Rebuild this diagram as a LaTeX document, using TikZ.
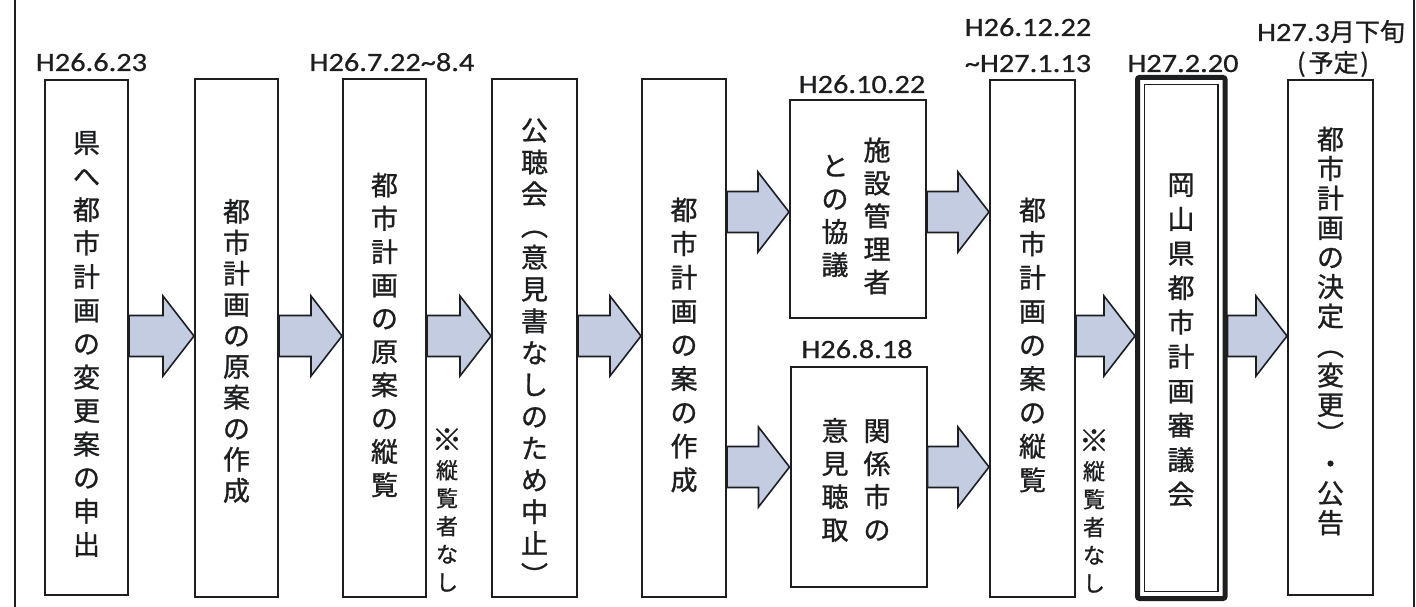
\documentclass[tikz,border=0pt]{standalone}
\usepackage{fontspec}
\newfontfamily\jp[FakeBold=1]{Noto Sans CJK JP}
\newfontfamily\dt[FakeStretch=1.15,FakeBold=0.6]{Carlito}
\usetikzlibrary{calc}
\definecolor{ink}{RGB}{28,30,32}
\definecolor{arrfill}{RGB}{196,204,226}
\tikzset{
  stepbox/.style={draw=ink, line width=2pt, fill=white, inner sep=0pt},
  vt/.style={text=ink, align=center, inner sep=0pt, font=\jp\fontsize{27}{#1}\selectfont},
  vt/.default=33,
  note/.style={text=ink, align=center, inner sep=0pt, font=\jp\fontsize{22}{28}\selectfont},
  date/.style={text=ink, inner sep=0pt, anchor=base, font=\dt\fontsize{26.4}{30}\selectfont},
  blockarr/.style={draw=ink, line width=1.6pt, fill=arrfill, line join=miter},
  frameline/.style={draw=ink, line width=2pt},
}
\newcommand\blockarrow[3]{%
  \coordinate (ba-s) at (#1.east |- 0,#3);
  \coordinate (ba-t) at (#2.west |- 0,#3);
  \draw[blockarr] ($(ba-s)+(0,-20.5)$) -- ($(ba-t)+(-31,-20.5)$) -- ($(ba-t)+(-31,-40)$)
    -- (ba-t) -- ($(ba-t)+(-31,40)$) -- ($(ba-t)+(-31,20.5)$) -- ($(ba-s)+(0,20.5)$) -- cycle;
}
\newcommand\bigkome{{\fontsize{30}{28}\selectfont ※}}
\begin{document}
\begin{tikzpicture}[x=1pt,y=-1pt]
\useasboundingbox (0,0) rectangle (1416,607);
\fill[white] (0,0) rectangle (1416,607);
% frame
\coordinate (fl1) at (15,0); \coordinate (fl2) at (15,607);
\coordinate (fr1) at (1414,0); \coordinate (fr2) at (1414,607);
\draw[frameline] (fl1) -- (fl2);
\draw[frameline] (fr1) -- (fr2);

% boxes
\node[stepbox, minimum width=83pt, minimum height=515pt] (b1) at (86.5,337.5) {};
\node[stepbox, minimum width=83pt, minimum height=518pt] (b2) at (236.5,338) {};
\node[stepbox, minimum width=83pt, minimum height=518pt] (b3) at (384.5,338) {};
\node[stepbox, minimum width=85pt, minimum height=518pt] (b4) at (534.5,338) {};
\node[stepbox, minimum width=84pt, minimum height=518pt] (b5) at (684,338) {};
\node[stepbox, minimum width=136pt, minimum height=218pt] (b6u) at (858,209) {};
\node[stepbox, minimum width=136pt, minimum height=220pt] (b6l) at (858.5,477) {};
\node[stepbox, minimum width=85pt, minimum height=517pt] (b7) at (1032.5,338.5) {};
\node[stepbox, line width=5pt, rounded corners=2pt, minimum width=87.5pt, minimum height=521pt] (b8) at (1181.25,338) {};
\draw[draw=ink, line width=1.5pt] ($(b8.north west)+(9.5,9.5)$) rectangle ($(b8.south east)+(-9.5,-9.5)$);
\node[stepbox, minimum width=85pt, minimum height=515pt] (b9) at (1330.5,337.5) {};

% arrows
\blockarrow{b1}{b2}{336}
\blockarrow{b2}{b3}{336}
\blockarrow{b3}{b4}{336}
\blockarrow{b4}{b5}{336}
\blockarrow{b5}{b6u}{212}
\blockarrow{b5}{b6l}{467}
\blockarrow{b6u}{b7}{212}
\blockarrow{b6l}{b7}{467}
\blockarrow{b7}{b8}{336}
\blockarrow{b8}{b9}{336}

% texts in boxes
\node[vt=33.5] (t1) at (86.5,344) {県\\へ\\都\\市\\計\\画\\の\\変\\更\\案\\の\\申\\出};
\node[vt=31] (t2) at (236.5,351) {都\\市\\計\\画\\の\\原\\案\\の\\作\\成};
\node[vt=33.3] (t3) at (384.5,335) {都\\市\\計\\画\\の\\原\\案\\の\\縦\\覧};
\node[vt=31.8] (t4) at (534.5,352) {公\\聴\\会\\︵\\意\\見\\書\\な\\し\\の\\た\\め\\中\\止\\︶};
\node[vt=33.75] (t5) at (684,345) {都\\市\\計\\画\\の\\案\\の\\作\\成};
\node[vt=33] (t6a) at (877,216) {施\\設\\管\\理\\者};
\node[vt=33] (t6b) at (835,216) {と\\の\\協\\議};
\node[vt=33] (t6c) at (877,480) {関\\係\\市\\の};
\node[vt=33] (t6d) at (835,480) {意\\見\\聴\\取};
\node[vt=33.75] (t7) at (1032.5,345) {都\\市\\計\\画\\の\\案\\の\\縦\\覧};
\node[vt=34.4] (t8) at (1181,340) {岡\\山\\県\\都\\市\\計\\画\\審\\議\\会};
\node[vt=29.5] (t9) at (1330.5,331) {都\\市\\計\\画\\の\\決\\定\\︵\\変\\更\\︶\\・\\公\\告};

% notes
\node[note] (n1) at (447,510) {\bigkome\\縦\\覧\\者\\な\\し};
\node[note] (n2) at (1094,511) {\bigkome\\縦\\覧\\者\\な\\し};

% dates
\node[date] (d1) at (91.5,71) {H26.6.23};
\node[date] (d2) at (392,71) {H26.7.22\textasciitilde 8.4};
\node[date] (d3) at (862,93) {H26.10.22};
\node[date] (d4) at (857,358) {H26.8.18};
\node[date] (d5) at (1028,36) {H26.12.22};
\node[date] (d5b) at (1028,72) {\textasciitilde H27.1.13};
\node[date] (d6) at (1183,72) {H27.2.20};
\node[date] (d7) at (1331,41) {H27.3{\jp\fontsize{25}{28}\selectfont 月下旬}};
\node[text=ink, inner sep=0pt, font=\jp\fontsize{25}{28}\selectfont] (d7b) at (1333,64) {(\kern3pt予定\kern2pt)};
\end{tikzpicture}
\end{document}
